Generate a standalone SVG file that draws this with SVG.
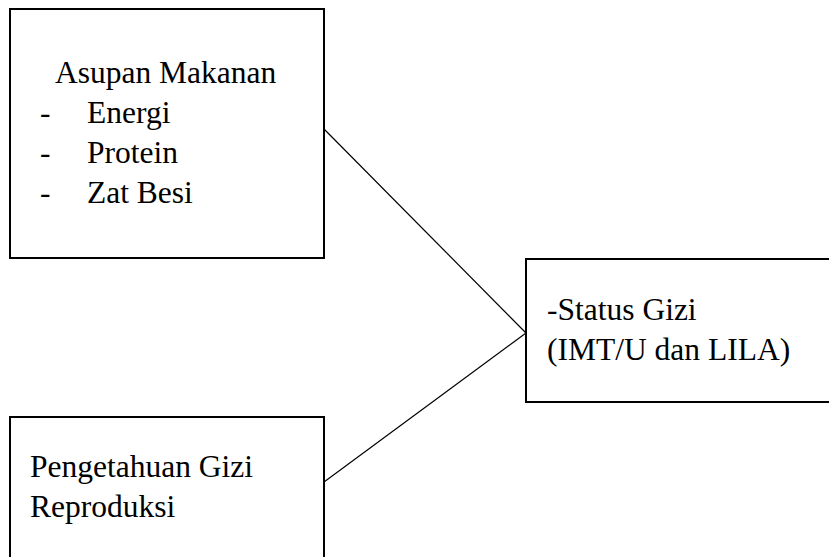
<svg xmlns="http://www.w3.org/2000/svg" width="829" height="557" viewBox="0 0 829 557">
<style>
.box{fill:#fff;stroke:#000;stroke-width:2}
.t{font-family:"Liberation Serif","Times New Roman",serif;font-size:31.5px;fill:#000}
.c{stroke:#000;stroke-width:1.2;fill:none}
</style>
<rect width="829" height="557" fill="#fff"/>
<g id="connectors">
<line class="c" x1="324" y1="129" x2="526" y2="333"/>
<line class="c" x1="324" y1="482" x2="526" y2="333"/>
</g>
<g id="asupan">
<rect class="box" x="10" y="9" width="314" height="249"/>
<text class="t" x="55" y="83">Asupan Makanan</text>
<text class="t" x="40" y="123">-</text><text class="t" x="87" y="123">Energi</text>
<text class="t" x="40" y="163">-</text><text class="t" x="87" y="163">Protein</text>
<text class="t" x="40" y="203">-</text><text class="t" x="87" y="203">Zat Besi</text>
</g>
<g id="pengetahuan">
<rect class="box" x="10" y="417" width="314" height="160"/>
<text class="t" x="30" y="477">Pengetahuan Gizi</text>
<text class="t" x="30" y="517">Reproduksi</text>
</g>
<g id="status">
<rect class="box" x="526" y="259" width="320" height="143"/>
<text class="t" x="547" y="320">-Status Gizi</text>
<text class="t" x="547" y="360">(IMT/U dan LILA)</text>
</g>
</svg>
